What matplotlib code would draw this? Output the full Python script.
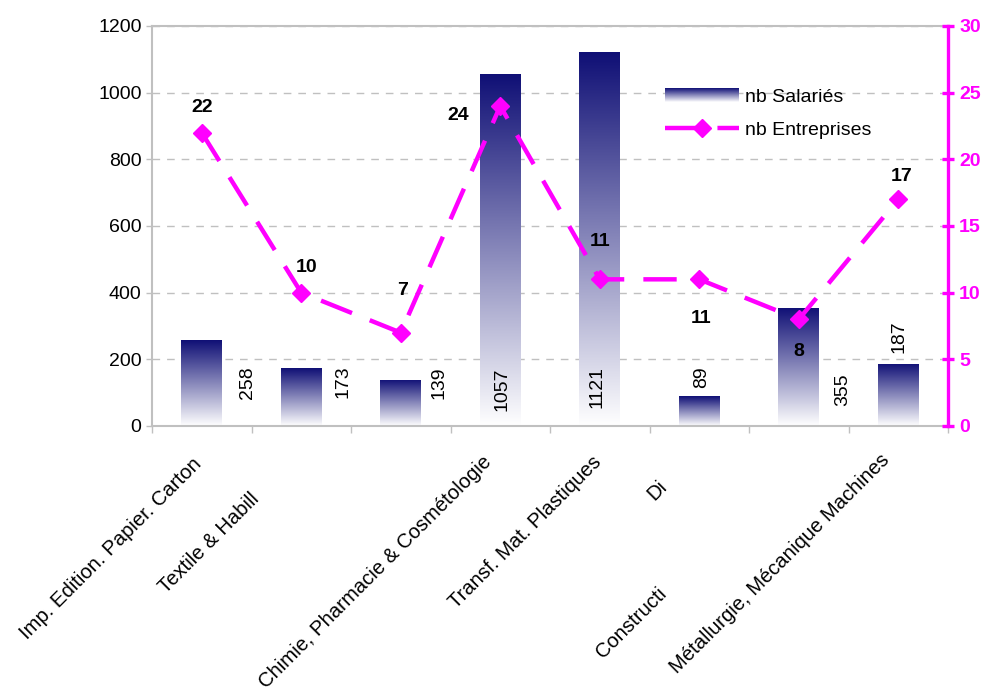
import numpy as np
import matplotlib
matplotlib.use('Agg')
import matplotlib.pyplot as plt
from matplotlib.patches import Rectangle
from matplotlib.lines import Line2D
from matplotlib.legend_handler import HandlerBase
from matplotlib.transforms import offset_copy

plt.rcParams['font.family'] = ['Liberation Sans', 'DejaVu Sans']
plt.rcParams['font.size'] = 14

# data
secteurs = ["Imp. Edition. Papier. Carton", "Textile & Habill", "",
            "Chimie, Pharmacie & Cosmétologie", "Transf. Mat. Plastiques",
            "Di", "Constructi", "Métallurgie, Mécanique Machines"]
nb_salaries = [258, 173, 139, 1057, 1121, 89, 355, 187]
nb_entreprises = [22, 10, 7, 24, 11, 11, 8, 17]

# layout only (where Excel dropped the labels)
sal_lab_dx = [0.46, 0.42, 0.38, 0.02, -0.03, 0.02, 0.44, 0.01]
sal_lab_y = [129, 132, 129, 111, 117, 147, 108, 267]
ent_lab_off = [(0, 25), (5, 25), (2, 42), (-42, -9), (0, 38), (2, -39), (0, -32), (3, 23)]
cat_lab_off = [(-10, -28), (-52, -63), (0, 0), (-18, -26), (-8, -26), (-42, -51), (-142, -158), (-18, -24)]

navy = np.array([0.06, 0.06, 0.46])
white = np.array([1.0, 1.0, 1.0])
magenta = '#ff00ff'
grey = '#c0c0c0'


class GradientHandler(HandlerBase):
    def create_artists(self, legend, orig_handle, xdescent, ydescent,
                       width, height, fontsize, trans):
        arts = []
        n = 14
        for k in range(n):
            t = (k + 0.5) / n
            c = white * (1 - t) + navy * t
            arts.append(Rectangle((-xdescent, -ydescent + height * k / n), width,
                                  height / n * 1.1, facecolor=c, edgecolor='none',
                                  transform=trans))
        return arts


fig = plt.figure(figsize=(9.89, 6.91), dpi=100)
ax = fig.add_axes([152 / 989, 1 - 426 / 691, 796 / 989, 400 / 691])
x = np.arange(len(nb_salaries))

# bars with vertical gradient (dark top -> white bottom)
bars = ax.bar(x, nb_salaries, width=0.41, facecolor='none', edgecolor='none', zorder=2)
grad = np.linspace(0, 1, 256)[:, None, None]
img = white * (1 - grad) + navy * grad
for b in bars:
    x0, w, h = b.get_x(), b.get_width(), b.get_height()
    im = ax.imshow(img, extent=[x0, x0 + w, 0, h], origin='lower',
                   aspect='auto', zorder=2, interpolation='bilinear')
    im.set_clip_path(b)

for i, v in enumerate(nb_salaries):
    ax.text(x[i] + sal_lab_dx[i], sal_lab_y[i], str(v), rotation=90,
            ha='center', va='center', fontsize=14, zorder=3)

ax.set_xlim(-0.5, len(x) - 0.5)
ax.set_ylim(0, 1200)
ax.set_yticks(np.arange(0, 1201, 200))
ax.set_xticks(np.arange(len(x) + 1) - 0.5)
ax.set_xticklabels([])
ax.yaxis.grid(True, linestyle=(0, (5.5, 5)), color=grey, lw=1.0, zorder=0)
ax.set_axisbelow(True)
for s in ['left', 'top', 'bottom']:
    ax.spines[s].set_color(grey)
    ax.spines[s].set_linewidth(1.5)
ax.spines['right'].set_visible(False)
ax.tick_params(axis='both', colors=grey, labelcolor='black', length=4, width=1)
ax.tick_params(axis='x', length=5)

# category labels, rotated
base = ax.get_xaxis_transform()
for i, lab in enumerate(secteurs):
    if not lab:
        continue
    tr = offset_copy(base, fig=fig, x=cat_lab_off[i][0], y=cat_lab_off[i][1], units='dots')
    ax.text(x[i], 0, lab, transform=tr, rotation=45, rotation_mode='anchor',
            ha='right', va='top', fontsize=14.6, clip_on=False)

# line on secondary axis
ax2 = ax.twinx()
ax2.plot(x, nb_entreprises, color=magenta, lw=3.2, dashes=(7.5, 4.3),
         marker='D', markersize=9, zorder=4)
for i, v in enumerate(nb_entreprises):
    ax2.annotate(str(v), (x[i], v), xytext=ent_lab_off[i], textcoords='offset pixels',
                 ha='center', va='center', fontsize=14, fontweight='bold')
ax2.set_ylim(0, 30)
ax2.set_yticks(np.arange(0, 31, 5))
for s in ['left', 'top', 'bottom']:
    ax2.spines[s].set_visible(False)
ax2.spines['right'].set_color(magenta)
ax2.spines['right'].set_linewidth(2.4)
ax2.tick_params(axis='y', direction='inout', length=8, width=2.4, colors=magenta, pad=4)
for t in ax2.get_yticklabels():
    t.set_fontweight('bold')

# legend
h_bar = Rectangle((0, 0), 1, 1, facecolor=navy)
h_line = Line2D([], [], color=magenta, lw=3.2, dashes=(7.5, 4.3), marker='D', markersize=9)
ax2.legend([h_bar, h_line], ['nb Salariés', 'nb Entreprises'],
           handler_map={Rectangle: GradientHandler()},
           loc='upper left', bbox_to_anchor=(665 / 989, 1 - 88 / 691),
           bbox_transform=fig.transFigure, frameon=False, borderpad=0,
           borderaxespad=0, handlelength=3.8, handletextpad=0.3,
           labelspacing=0.8, fontsize=14)

fig.savefig('out.png', dpi=100)
